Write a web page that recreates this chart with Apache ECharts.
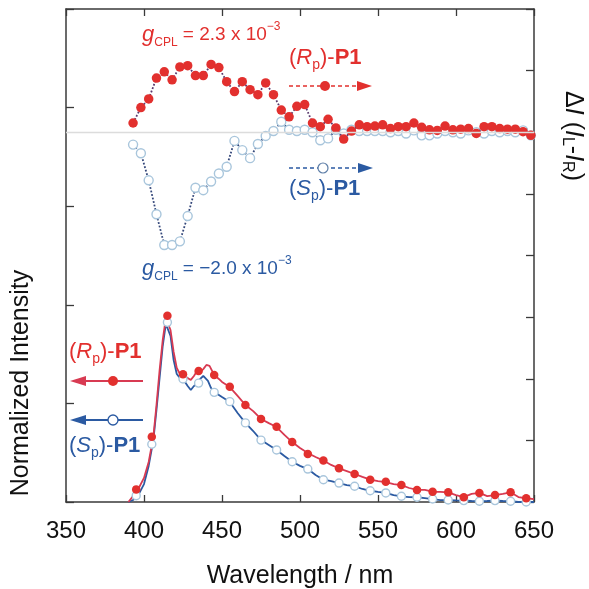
<!DOCTYPE html>
<html><head><meta charset="utf-8">
<script src="https://cdn.jsdelivr.net/npm/echarts@6/dist/echarts.min.js"></script>
<style>html,body{margin:0;padding:0;background:#fff}#c{width:589px;height:589px}</style>
</head><body><div id="c"></div>
<script>
// ---- CPL (upper panel, right axis) ----
var cplWavelength = [393,398,403,408,413,418,423,428,433,438,443,448,453,458,463,468,473,478,483,488,493,498,503,508,513,518,523,528,533,538,543,548,553,558,563,568,573,578,583,588,593,598,603,608,613,618,623,628,633,638,643,648];
var cplRp = [0.15,0.40,0.54,0.88,0.98,0.85,1.06,1.08,0.92,0.92,1.10,1.05,0.82,0.66,0.82,0.69,0.61,0.80,0.61,0.36,0.25,0.42,0.45,0.15,0.09,0.21,0.07,-0.11,0.02,0.12,0.09,0.10,0.12,0.06,0.09,0.09,0.15,0.08,0.04,0.03,0.10,0.04,0.05,0.06,-0.02,0.09,0.09,0.06,0.05,0.05,0.01,-0.05];
var cplSp = [-0.20,-0.34,-0.78,-1.33,-1.83,-1.83,-1.77,-1.36,-0.90,-0.94,-0.80,-0.67,-0.56,-0.14,-0.29,-0.42,-0.19,-0.06,0.02,0.17,0.04,0.02,0.04,0.00,-0.13,-0.10,0.04,-0.02,0.04,0.02,0.02,0.02,0.02,0.00,0.02,-0.02,0.03,-0.05,-0.05,-0.02,0.02,0.00,-0.02,0.03,0.00,-0.02,0.02,0.00,0.02,0.00,0.03,-0.05];

// ---- PL (lower panel, left axis) ----
var plRpWavelength = [390,393,396,400,403,406,408,410,412,414,415,417,419,421,423,425,428,430,432,434,436,438,440,442,445,448,450,455,460,465,470,475,480,485,490,495,500,505,510,515,520,525,530,535,540,545,550,555,560,565,570,575,580,585,590,595,600,605,610,615,620,625,630,635,640,645,650];
var plRp = [0,0.03,0.061,0.122,0.203,0.33,0.492,0.669,0.821,0.933,0.943,0.872,0.761,0.68,0.649,0.644,0.629,0.619,0.639,0.664,0.659,0.674,0.695,0.69,0.644,0.624,0.609,0.583,0.538,0.492,0.461,0.421,0.40,0.38,0.34,0.304,0.274,0.248,0.228,0.21,0.188,0.17,0.157,0.142,0.127,0.113,0.106,0.101,0.091,0.086,0.071,0.061,0.061,0.052,0.051,0.049,0.035,0.025,0.041,0.046,0.03,0.035,0.041,0.049,0.025,0.019,0.015];
var plSpWavelength = [390,393,396,400,403,406,408,410,412,414,415,417,419,421,423,425,428,430,432,434,436,438,439,441,443,445,450,455,460,465,470,475,480,485,490,495,500,505,510,515,520,525,530,535,540,545,550,555,560,565,570,575,580,585,590,595,600,605,610,615,620,625,630,635,640,645,650];
var plSp = [0,0.01,0.03,0.091,0.183,0.314,0.467,0.629,0.791,0.903,0.913,0.842,0.72,0.649,0.629,0.624,0.588,0.568,0.588,0.603,0.624,0.639,0.644,0.614,0.578,0.558,0.532,0.507,0.451,0.401,0.36,0.314,0.289,0.264,0.233,0.204,0.183,0.167,0.137,0.113,0.106,0.096,0.086,0.08,0.066,0.057,0.051,0.046,0.035,0.029,0.025,0.024,0.02,0.015,0.01,0.01,0.008,0.007,0.005,0.004,0.005,0.007,0.005,0.004,0,0,0];
var markWavelength = [395,405,415,425,435,445,455,465,475,485,495,505,515,525,535,545,555,565,575,585,595,605,615,625,635,645];
var markRp = [0.064,0.331,0.945,0.648,0.664,0.644,0.585,0.492,0.421,0.382,0.304,0.243,0.21,0.171,0.142,0.113,0.103,0.086,0.061,0.052,0.049,0.024,0.046,0.035,0.049,0.019];
var markSp = [0.032,0.293,0.911,0.624,0.603,0.556,0.509,0.401,0.314,0.264,0.204,0.167,0.113,0.096,0.08,0.057,0.046,0.029,0.024,0.015,0.01,0.007,0.004,0.007,0.004,0];

var xTicks = [350,400,450,500,550,600,650];

function pairs(xs, ys){ return xs.map(function(x,i){ return [x, ys[i]]; }); }

var RED = '#e2302e', REDLINE = '#d83a52', BLUE = '#2b5aa2', LBLUE = '#a9c6dc', AX = '#3a3a3a';
var FONT = '"Liberation Sans", Arial, Helvetica, sans-serif';

var chart = echarts.init(document.getElementById('c'), null, {renderer:'canvas'});

function richBase(color, size){
  return {
    n:{fontSize:size, fontFamily:FONT, color:color, lineHeight:28, verticalAlign:'middle'},
    i:{fontSize:size, fontFamily:FONT, color:color, fontStyle:'italic', lineHeight:28},
    gi:{fontSize:size+3, fontFamily:FONT, color:color, fontStyle:'italic', lineHeight:28},
    b:{fontSize:size, fontFamily:FONT, color:color, fontWeight:'bold', lineHeight:28},
    s:{fontSize:Math.round(size*0.62), fontFamily:FONT, color:color, lineHeight:13, verticalAlign:'bottom'},
    sup:{fontSize:Math.round(size*0.62), fontFamily:FONT, color:color, lineHeight:13, verticalAlign:'top'}
  };
}
function txt(x, y, text, color, size){
  return {type:'text', x:x, y:y, z:100, style:{text:text, rich:richBase(color,size), fill:color, font: size+'px '+FONT, align:'left', verticalAlign:'middle'}};
}

var graphics = [
  txt(142, 35, '{gi|g}{s|CPL}{n| = 2.3 x 10}{sup|−3}', RED, 19),
  txt(142, 269, '{gi|g}{s|CPL}{n| = −2.0 x 10}{sup|−3}', BLUE, 19),
  txt(289, 58, '{n|(}{i|R}{s|p}{n|)-}{b|P1}', RED, 22),
  txt(289, 189, '{n|(}{i|S}{s|p}{n|)-}{b|P1}', BLUE, 22),
  txt(69, 352, '{n|(}{i|R}{s|p}{n|)-}{b|P1}', RED, 22),
  txt(69, 446, '{n|(}{i|S}{s|p}{n|)-}{b|P1}', BLUE, 22),
  // upper arrows
  {type:'line', z:90, shape:{x1:289,y1:86,x2:359,y2:86}, style:{stroke:RED, lineWidth:1.5, lineDash:[4,3]}},
  {type:'polygon', z:90, shape:{points:[[357,81],[372,86],[357,91]]}, style:{fill:RED}},
  {type:'circle', z:91, shape:{cx:325,cy:86,r:5}, style:{fill:RED}},
  {type:'line', z:90, shape:{x1:289,y1:168,x2:360,y2:168}, style:{stroke:BLUE, lineWidth:1.5, lineDash:[4,3]}},
  {type:'polygon', z:90, shape:{points:[[358,163],[373,168],[358,173]]}, style:{fill:BLUE}},
  {type:'circle', z:91, shape:{cx:323,cy:168,r:5}, style:{fill:'#fff', stroke:'#5f7fa8', lineWidth:1.2}},
  // lower-left arrows
  {type:'line', z:90, shape:{x1:84,y1:381,x2:143,y2:381}, style:{stroke:REDLINE, lineWidth:2}},
  {type:'polygon', z:90, shape:{points:[[70,381],[86,376],[86,386]]}, style:{fill:REDLINE}},
  {type:'circle', z:91, shape:{cx:113,cy:381,r:5}, style:{fill:RED}},
  {type:'line', z:90, shape:{x1:84,y1:420,x2:143,y2:420}, style:{stroke:BLUE, lineWidth:2}},
  {type:'polygon', z:90, shape:{points:[[70,420],[86,415],[86,425]]}, style:{fill:BLUE}},
  {type:'circle', z:91, shape:{cx:113,cy:420,r:5}, style:{fill:'#fff', stroke:BLUE, lineWidth:1.3}},
  // axis titles
  {type:'text', x:300, y:576, z:100, style:{text:'Wavelength / nm', font:'25px '+FONT, fill:'#111', align:'center', verticalAlign:'middle'}},
  {type:'text', x:21, y:383, z:100, rotation:Math.PI/2, style:{text:'Normalized Intensity', font:'25px '+FONT, fill:'#111', align:'center', verticalAlign:'middle'}},
  {type:'text', x:573, y:136, z:100, rotation:-Math.PI/2, style:{
    text:'{n|Δ}{i|I}{n| (}{i|I}{s|L}{n|-}{i|I}{s|R}{n|)}', align:'center', verticalAlign:'middle',
    rich:richBase('#111',25), fill:'#111', font:'25px '+FONT}}
];

var option = {
  backgroundColor:'#fff',
  animation:false,
  grid:{left:66, right:55, top:9, bottom:87, show:false},
  xAxis:[
    {type:'value', position:'bottom', min:350, max:650, interval:50,
     axisLine:{show:true, onZero:false, lineStyle:{color:AX, width:1.5}},
     axisTick:{show:true, inside:true, length:7, lineStyle:{color:AX, width:1.3}},
     axisLabel:{show:true, margin:17, fontSize:24, fontFamily:FONT, color:'#111',
       formatter:function(v){ return xTicks.indexOf(v)>=0 ? String(v) : ''; }},
     splitLine:{show:false}},
    {type:'value', position:'top', min:350, max:650, interval:50,
     axisLine:{show:true, onZero:false, lineStyle:{color:AX, width:1.5}},
     axisTick:{show:true, inside:true, length:7, lineStyle:{color:AX, width:1.3}},
     axisLabel:{show:false}, splitLine:{show:false}}
  ],
  yAxis:[
    {type:'value', position:'left', min:0, max:2.5, interval:0.5,
     axisLine:{show:true, onZero:false, lineStyle:{color:AX, width:1.5}},
     axisTick:{show:true, inside:true, length:8, lineStyle:{color:AX, width:1.3}},
     axisLabel:{show:false}, splitLine:{show:false}},
    {type:'value', position:'right', min:-6, max:2, interval:1,
     axisLine:{show:true, onZero:false, lineStyle:{color:AX, width:1.5}},
     axisTick:{show:true, inside:true, length:8, lineStyle:{color:AX, width:1.3}},
     axisLabel:{show:false}, splitLine:{show:false}}
  ],
  graphic: graphics,
  series:[
    // CPL (S)
    {type:'line', xAxisIndex:0, yAxisIndex:1, data:pairs(cplWavelength, cplSp), symbol:'circle', symbolSize:9, showSymbol:true,
     lineStyle:{type:'dotted', color:'#34477a', width:1.8},
     itemStyle:{color:'#fff', borderColor:LBLUE, borderWidth:1.4},
     markLine:{silent:true, symbol:'none', label:{show:false}, lineStyle:{color:'#dcdcdc', width:1.3, type:'solid'}, data:[{yAxis:0}]},
     z:3},
    // CPL (R)
    {type:'line', xAxisIndex:0, yAxisIndex:1, data:pairs(cplWavelength, cplRp), symbol:'circle', symbolSize:9.5, showSymbol:true,
     lineStyle:{type:'dotted', color:'#5a3a6e', width:1.8},
     itemStyle:{color:RED, borderWidth:0},
     z:4},
    // PL lines
    {type:'line', xAxisIndex:0, yAxisIndex:0, data:pairs(plSpWavelength, plSp), showSymbol:false, symbol:'none',
     lineStyle:{color:BLUE, width:1.8}, z:2},
    {type:'line', xAxisIndex:0, yAxisIndex:0, data:pairs(plRpWavelength, plRp), showSymbol:false, symbol:'none',
     lineStyle:{color:REDLINE, width:1.8}, z:2},
    // PL markers
    {type:'scatter', xAxisIndex:0, yAxisIndex:0, data:pairs(markWavelength, markSp), symbol:'circle', symbolSize:8,
     itemStyle:{color:'#fff', borderColor:LBLUE, borderWidth:1.4, opacity:1}, z:5},
    {type:'scatter', xAxisIndex:0, yAxisIndex:0, data:pairs(markWavelength, markRp), symbol:'circle', symbolSize:8.5,
     itemStyle:{color:RED, opacity:1}, z:6}
  ]
};
chart.setOption(option);
</script>
</body></html>
